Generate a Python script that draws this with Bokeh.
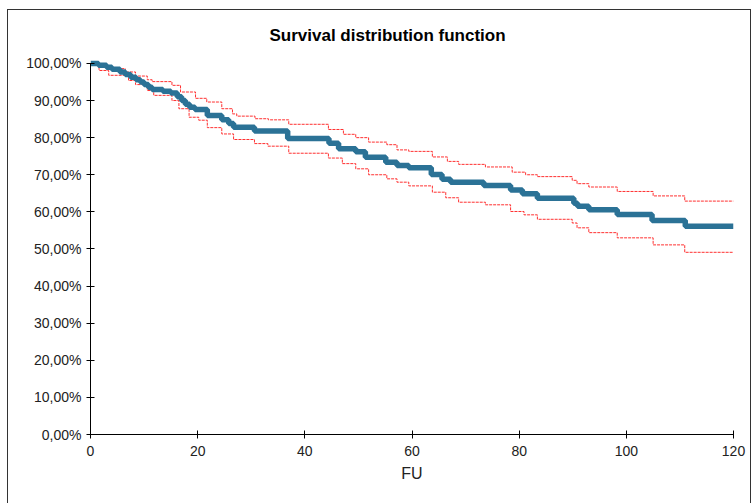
from bokeh.plotting import figure
from bokeh.models import Range1d, FixedTicker, Title, InlineStyleSheet
from bokeh.embed import file_html
from bokeh.resources import INLINE

# ---- data ----
fu_main = [0, 1.5, 3.0, 4.0, 5.5, 6.5, 7.5, 8.5, 9.3, 10.0, 10.8, 11.5, 13.5, 15.0, 16.2, 17.0,
           17.7, 18.5, 19.5, 21.8, 24.5, 25.8, 26.7, 30.6, 36.8, 44.5, 46.3, 49.5, 51.3, 55.1,
           57.2, 59.4, 63.6, 65.6, 67.2, 73.4, 78.4, 80.6, 83.4, 90.2, 90.9, 93.0, 98.3, 104.8,
           111.0, 120]
surv_main = [100, 99.5, 99.0, 98.4, 97.7, 97.0, 96.3, 95.6, 95.0, 94.3, 93.6, 93.0, 92.5, 92.0,
             91.0, 90.0, 89.0, 88.2, 87.6, 86.0, 84.8, 83.8, 82.8, 81.8, 79.8, 78.5, 77.0, 76.2,
             74.7, 73.4, 72.5, 71.9, 70.1, 68.8, 68.0, 67.1, 65.9, 64.9, 63.7, 62.3, 61.5, 60.6,
             59.3, 57.7, 56.1, 56.1]

fu_upper = [0, 0.5, 1.9, 3.9, 6.5, 8.4, 10.6, 11.5, 15.2, 16.8, 19.6, 21.7, 24.5, 26.5, 27.3,
            30.7, 33.2, 37.0, 44.4, 47.2, 49.5, 51.9, 55.3, 57.2, 59.4, 63.8, 66.6, 68.7, 73.7,
            78.7, 81.2, 83.4, 89.9, 90.8, 93.0, 98.3, 105.0, 110.9, 120]
surv_upper = [100, 99.6, 99.3, 98.6, 97.7, 96.6, 95.6, 95.1, 94.1, 92.3, 90.6, 89.6, 87.8, 86.4,
              85.8, 85.1, 84.8, 83.6, 82.2, 80.9, 80.0, 78.8, 78.1, 76.7, 76.3, 74.8, 73.6, 72.8,
              72.1, 70.7, 70.0, 69.5, 68.5, 67.6, 66.7, 65.5, 64.3, 62.9, 62.9]

fu_lower = [0, 0.3, 1.6, 3.4, 7.1, 8.4, 10.6, 11.8, 15.2, 16.5, 18.4, 20.2, 21.8, 24.5, 26.7,
            30.6, 33.1, 37.0, 44.4, 47.0, 49.5, 51.9, 55.3, 57.2, 59.4, 63.8, 66.3, 68.7, 73.7,
            78.4, 80.9, 83.4, 89.9, 90.8, 93.0, 98.3, 105.0, 110.9, 120]
surv_lower = [100, 99.5, 98.1, 96.8, 95.4, 94.3, 92.7, 91.4, 90.0, 87.8, 85.5, 84.7, 82.7, 81.0,
              79.5, 78.4, 77.7, 75.8, 74.5, 73.0, 71.6, 70.0, 68.9, 68.0, 67.0, 65.3, 63.8, 62.6,
              61.9, 60.1, 59.2, 58.0, 57.0, 55.7, 54.4, 53.0, 51.1, 49.1, 49.1]

x_ticks = [0, 20, 40, 60, 80, 100, 120]
y_ticks = [0, 10, 20, 30, 40, 50, 60, 70, 80, 90, 100]
y_tick_labels = ["0,00%", "10,00%", "20,00%", "30,00%", "40,00%", "50,00%",
                 "60,00%", "70,00%", "80,00%", "90,00%", "100,00%"]

title_text = "Survival distribution function"
x_title = "FU"

FONT = "Liberation Sans"

# chart-area border drawn with CSS on the figure's host element
border_css = InlineStyleSheet(css="""
:host { position: relative; }
:host::after {
  content: "";
  position: absolute;
  left: 7px; top: 9px; width: 742px; height: 600px;
  border: 1px solid #333333;
  pointer-events: none;
}
""")

# ---- figure ----
p = figure(width=752, height=503, output_backend="svg", toolbar_location=None,
           x_range=Range1d(0, 120), y_range=Range1d(0, 101.6),
           min_border_left=90, min_border_right=19, min_border_top=57, min_border_bottom=69,
           stylesheets=[border_css])
p.outline_line_color = None
p.grid.visible = False
p.background_fill_color = "white"
p.border_fill_color = "white"

# title
p.title = Title(text=title_text, align="left", offset=179, text_font=FONT,
                text_font_size="17px", text_font_style="bold", text_color="black",
                standoff=25)

# axes
for ax in (p.xaxis[0], p.yaxis[0]):
    ax.axis_line_color = "black"
    ax.major_tick_line_color = "black"
    ax.major_tick_in = 4
    ax.major_tick_out = 4
    ax.minor_tick_line_color = None
    ax.major_label_text_font = FONT
    ax.major_label_text_font_size = "14px"
    ax.major_label_text_color = "#222222"

p.xaxis.ticker = FixedTicker(ticks=x_ticks)
p.xaxis.major_label_standoff = 7
p.xaxis.axis_label = x_title
p.xaxis.axis_label_text_font = FONT
p.xaxis.axis_label_text_font_size = "16px"
p.xaxis.axis_label_text_font_style = "normal"
p.xaxis.axis_label_text_color = "#222222"
p.xaxis.axis_label_standoff = 6

p.yaxis.ticker = FixedTicker(ticks=y_ticks)
p.yaxis.bounds = (0, 100)
p.yaxis.major_label_overrides = {t: lab for t, lab in zip(y_ticks, y_tick_labels)}
p.yaxis.major_label_standoff = 5

# confidence bounds
p.step(fu_upper, surv_upper, mode="after", line_color="#FF3030", line_width=1, line_dash="3 1")
p.step(fu_lower, surv_lower, mode="after", line_color="#FF3030", line_width=1, line_dash="3 1")
# survival curve
p.step(fu_main, surv_main, mode="after", line_color="#2B7296", line_width=5.5)

open("out.html", "w").write(file_html(p, INLINE))
